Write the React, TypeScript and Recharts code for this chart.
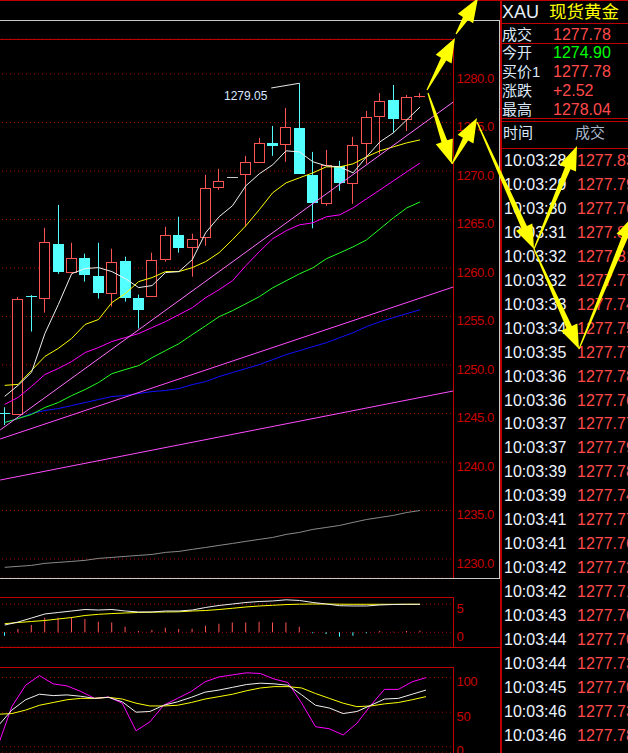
import React from "react";
import {
  ComposedChart,
  Bar,
  Line,
  XAxis,
  YAxis,
  CartesianGrid,
  Cell,
  ReferenceLine,
} from "recharts";

// candles, oldest first (price panel)
const candleOpen = [1245.05, 1244.92, 1257.08, 1256.95, 1262.5, 1259.63, 1261.07, 1259.22, 1257.47, 1260.76, 1256.95, 1257.16, 1260.97, 1263.43, 1262.2, 1263.23, 1268.37, 1269.35, 1269.71, 1270.95, 1272.9, 1272.79, 1274.44, 1269.61, 1266.73, 1270.53, 1268.79, 1272.9, 1275.68, 1277.32, 1275.37, 1277.7];
const candleHigh = [1245.64, 1257.0, 1257.2, 1264.15, 1266.5, 1262.6, 1261.48, 1262.6, 1261.99, 1261.17, 1257.26, 1261.58, 1264.25, 1265.29, 1263.54, 1269.61, 1270.23, 1269.37, 1271.56, 1273.41, 1274.65, 1276.5, 1279.05, 1271.97, 1272.18, 1271.05, 1273.52, 1276.19, 1278.04, 1278.87, 1277.84, 1278.04];
const candleLow = [1243.81, 1244.92, 1253.45, 1255.4, 1259.4, 1259.6, 1258.6, 1256.85, 1256.03, 1256.54, 1253.76, 1257.16, 1260.66, 1261.58, 1259.11, 1262.3, 1268.06, 1269.33, 1264.26, 1270.95, 1271.56, 1270.95, 1269.71, 1264.09, 1266.42, 1267.96, 1266.62, 1270.74, 1271.77, 1273.95, 1274.13, 1277.55];
const candleClose = [1245.0, 1256.77, 1257.04, 1262.7, 1259.55, 1261.07, 1259.33, 1257.47, 1260.66, 1256.95, 1255.62, 1260.86, 1263.43, 1262.1, 1263.02, 1268.27, 1268.99, 1269.35, 1270.95, 1272.9, 1272.59, 1274.55, 1269.71, 1266.73, 1270.64, 1268.79, 1272.69, 1275.57, 1277.22, 1275.37, 1277.63, 1277.78];

// moving averages
const ma5 = [1246.77, 1247.9, 1249.24, 1253.25, 1256.23, 1259.42, 1259.94, 1260.04, 1259.63, 1258.91, 1257.98, 1258.19, 1259.53, 1259.63, 1260.86, 1263.64, 1265.29, 1266.42, 1268.48, 1269.71, 1270.64, 1272.08, 1271.97, 1270.95, 1270.53, 1270.43, 1269.81, 1271.46, 1273.0, 1273.93, 1275.27, 1276.6];
const ma10 = [1247.9, 1248.0, 1249.44, 1250.88, 1251.71, 1252.74, 1254.18, 1254.69, 1256.44, 1257.36, 1258.6, 1259.01, 1259.63, 1259.63, 1260.04, 1260.66, 1261.58, 1262.92, 1264.36, 1266.01, 1267.76, 1268.78, 1269.3, 1269.81, 1270.43, 1270.43, 1270.74, 1271.46, 1272.08, 1272.49, 1272.9, 1273.21];
const ma20 = [1245.94, 1246.66, 1247.79, 1249.02, 1249.64, 1250.36, 1251.28, 1251.8, 1252.42, 1252.83, 1253.24, 1253.86, 1254.47, 1255.19, 1255.91, 1256.94, 1257.77, 1258.69, 1260.24, 1261.68, 1263.01, 1263.84, 1264.45, 1264.66, 1265.28, 1265.48, 1266.2, 1267.13, 1268.05, 1268.98, 1269.91, 1270.83];
const ma30 = [1244.07, 1244.48, 1244.9, 1245.62, 1246.13, 1246.85, 1247.47, 1248.19, 1249.11, 1249.53, 1249.94, 1250.76, 1251.48, 1252.2, 1253.13, 1254.05, 1254.98, 1255.6, 1256.32, 1257.04, 1257.96, 1258.68, 1259.4, 1260.02, 1260.95, 1261.56, 1262.18, 1262.9, 1264.03, 1265.16, 1266.19, 1266.81];
const ma60 = [1244.07, 1244.48, 1245.0, 1245.31, 1245.51, 1245.82, 1246.13, 1246.44, 1246.75, 1246.85, 1247.06, 1247.26, 1247.37, 1247.57, 1247.98, 1248.29, 1248.81, 1249.22, 1249.63, 1250.04, 1250.55, 1251.07, 1251.48, 1251.89, 1252.3, 1252.82, 1253.33, 1253.95, 1254.46, 1254.88, 1255.29, 1255.7];
const ma250 = [1229.14, 1229.24, 1229.34, 1229.55, 1229.65, 1229.75, 1229.86, 1230.06, 1230.16, 1230.27, 1230.37, 1230.47, 1230.68, 1230.78, 1230.99, 1231.19, 1231.4, 1231.6, 1231.82, 1232.02, 1232.22, 1232.53, 1232.74, 1233.05, 1233.25, 1233.46, 1233.77, 1234.07, 1234.28, 1234.49, 1234.79, 1235.0];

// hand drawn trend lines: x in candle index units, ends at the chart edges
const trendX = [-0.336, 33.47];
const trendA = [1243.3, 1277.11];
const trendB = [1242.37, 1258.04];
const trendC = [1238.14, 1247.32];
const highMarkLabel = "1279.05";
const highLeaderX = [19.89, 22];
const highLeaderY = [1278.56, 1279.05];

const priceTicks = [1230, 1235, 1240, 1245, 1250, 1255, 1260, 1265, 1270, 1275, 1280];

// MACD
const macdDif = [1.3, 1.84, 2.55, 3.27, 3.54, 3.8, 4.07, 3.98, 4.07, 3.8, 3.63, 3.63, 3.8, 3.8, 3.98, 4.43, 4.79, 5.05, 5.32, 5.5, 5.59, 5.8, 5.68, 5.32, 5.05, 4.75, 4.7, 4.7, 4.88, 4.96, 5.0, 5.0];
const macdDea = [1.54, 1.75, 1.93, 2.11, 2.38, 2.64, 3.0, 3.21, 3.34, 3.45, 3.54, 3.59, 3.63, 3.66, 3.8, 3.89, 4.07, 4.29, 4.52, 4.7, 4.82, 4.95, 5.02, 5.05, 5.05, 5.02, 5.0, 5.0, 5.0, 5.0, 5.0, 5.0];
const macdHist = [-0.6, 0.6, 1.31, 2.62, 2.62, 2.68, 2.38, 1.9, 1.73, 1.0, 0.24, 0.42, 0.83, 0.6, 0.65, 1.19, 1.55, 1.73, 1.73, 1.9, 1.73, 1.73, 1.0, -0.18, -0.3, -0.77, -0.6, -0.18, 0.24, 0.1, 0.24, 0.3];
const macdTicks = [0, 5];

// KDJ
const kdjK = [30, 53, 68, 76, 74, 75, 73, 70, 71.5, 65, 50, 51, 60, 65, 71.5, 79, 82, 86, 90, 92, 91, 89, 75, 60, 56, 48, 51, 60, 69, 70, 76, 82];
const kdjD = [47, 48, 53, 60, 64, 68, 70, 70, 71.5, 69, 63, 59, 59, 60, 64, 69, 72.5, 76, 81, 85, 87, 87, 85, 77, 70, 63, 58, 59, 62, 64, 68, 72.5];
const kdjJ = [1.5, 58, 89, 103, 91, 88, 80, 70, 72, 63, 23, 36, 60, 70, 80, 94, 101, 104, 107, 106, 98, 93, 63, 29, 26, 17, 34, 60, 83, 83, 94, 100];
const kdjTicks = [0, 50, 100];

// quote box
const symbolCode = "XAU";
const symbolName = "现货黄金";
const quoteLabels = ["成交", "今开", "买价1", "涨跌", "最高"];
const quoteValues = ["1277.78", "1274.90", "1277.78", "+2.52", "1278.04"];

// tick-by-tick trades
const tradeTimes = ["10:03:28", "10:03:29", "10:03:30", "10:03:31", "10:03:32", "10:03:32", "10:03:33", "10:03:34", "10:03:35", "10:03:36", "10:03:36", "10:03:37", "10:03:37", "10:03:39", "10:03:39", "10:03:41", "10:03:41", "10:03:42", "10:03:42", "10:03:43", "10:03:44", "10:03:44", "10:03:45", "10:03:46", "10:03:46"];
const tradePrices = ["1277.83", "1277.79", "1277.76", "1277.80", "1277.81", "1277.77", "1277.74", "1277.75", "1277.77", "1277.78", "1277.76", "1277.77", "1277.79", "1277.78", "1277.74", "1277.77", "1277.76", "1277.72", "1277.71", "1277.76", "1277.70", "1277.73", "1277.70", "1277.73", "1277.78"];

// yellow annotation arrows drawn on the screenshot [tailX, tailY, headX, headY]
const arrows = [
  [427, 90, 455, 38],
  [456, 34, 478, -2],
  [428, 93, 452, 164],
  [452, 164, 477, 118],
  [477, 122, 534, 249],
  [534, 249, 577, 146],
  [534, 249, 579, 349],
  [579, 349, 634, 215],
];

const UP = "#ff5454";
const DOWN = "#54ffff";
const FLAT = "#c8c8c8";
const BORDER = "#c00000";
const GRID = "#a80000";
const AXIS_TEXT = "#c80000";
const FONT = '"Liberation Sans", Arial, "Noto Sans CJK SC", sans-serif';

const SLOTS = 34; // 32 candles + 2 empty slots before the scale

const priceRows = Array.from({ length: SLOTS }, (_, i) => ({
  slot: i,
  open: candleOpen[i],
  high: candleHigh[i],
  low: candleLow[i],
  close: candleClose[i],
  ma5: ma5[i],
  ma10: ma10[i],
  ma20: ma20[i],
  ma30: ma30[i],
  ma60: ma60[i],
  ma250: ma250[i],
}));

const trendRows = trendX.map((x, k) => ({ x, a: trendA[k], b: trendB[k], c: trendC[k] }));

const macdRows = Array.from({ length: SLOTS }, (_, i) => ({
  slot: i,
  dif: macdDif[i],
  dea: macdDea[i],
  hist: macdHist[i],
}));

const kdjRows = Array.from({ length: SLOTS }, (_, i) => ({
  slot: i,
  k: kdjK[i],
  d: kdjD[i],
  j: kdjJ[i],
}));

const PRICE_DOMAIN: [number, number] = [1228.04, 1283.61];

function Candle(props: any) {
  const { x, y, width, height, payload } = props;
  if (!payload || payload.high == null) return null;
  const { open, close, high, low } = payload;
  const top = Math.min(y, y + height);
  const h = Math.abs(height);
  const span = high - low;
  const toY = (v: number) => (span > 0 ? top + ((high - v) / span) * h : top);
  const cx = Math.floor(x + width / 2) + 0.5;
  const yo = toY(open);
  const yc = toY(close);
  const bTop = Math.min(yo, yc);
  const bBot = Math.max(yo, yc);
  const color = close > open ? UP : close < open ? DOWN : FLAT;

  if (bBot - bTop < 1.5) {
    const yy = Math.round(bTop) + 0.5;
    return (
      <g>
        {span > 0.1 && <line x1={cx} x2={cx} y1={top} y2={top + h} stroke={color} />}
        <line x1={cx - 5.5} x2={cx + 5.5} y1={yy} y2={yy} stroke={color} />
      </g>
    );
  }
  if (close > open) {
    const t = Math.round(bTop) + 0.5;
    const b = Math.round(bBot) + 0.5;
    return (
      <g>
        <line x1={cx} x2={cx} y1={top} y2={t} stroke={UP} />
        <line x1={cx} x2={cx} y1={b} y2={top + h} stroke={UP} />
        <rect x={cx - 5} y={t} width={10} height={b - t} fill="#000" stroke={UP} />
      </g>
    );
  }
  return (
    <g>
      <line x1={cx} x2={cx} y1={top} y2={top + h} stroke={DOWN} />
      <rect
        x={cx - 5.5}
        y={Math.round(bTop)}
        width={11}
        height={Math.max(1, Math.round(bBot) - Math.round(bTop))}
        fill={DOWN}
      />
    </g>
  );
}

function makeTick(fmt: (v: number) => string) {
  return (p: any) => (
    <text
      x={p.x}
      y={p.y + 8.7}
      fill={AXIS_TEXT}
      fontSize={13}
      letterSpacing={-0.4}
      fontFamily={FONT}
      textAnchor="start"
    >
      {fmt(p.payload.value)}
    </text>
  );
}

function hline(left: number, top: number, width: number, color: string, key?: string) {
  return <div key={key} style={{ position: "absolute", left, top, width, height: 1, background: color }} />;
}
function vline(left: number, top: number, height: number, color: string, w = 1) {
  return <div style={{ position: "absolute", left, top, width: w, height, background: color }} />;
}

function arrowPoints(a: number[]) {
  const [tx, ty, hx, hy] = a;
  const len = Math.hypot(hx - tx, hy - ty);
  const dx = (hx - tx) / len;
  const dy = (hy - ty) / len;
  const nx = -dy;
  const ny = dx;
  const L = 24;
  const bx = hx - dx * L;
  const by = hy - dy * L;
  const pts = [
    [tx + nx * 0.6, ty + ny * 0.6],
    [bx + nx * 3, by + ny * 3],
    [bx + nx * 9, by + ny * 9],
    [hx, hy],
    [bx - nx * 9, by - ny * 9],
    [bx - nx * 3, by - ny * 3],
    [tx - nx * 0.6, ty - ny * 0.6],
  ];
  return pts.map((p) => p.join(",")).join(" ");
}

const CHART_LEFT = -2.2;
const CHART_W = 502.2;

export default function App() {
  return (
    <div
      style={{
        position: "relative",
        width: 628,
        height: 753,
        background: "#000",
        overflow: "hidden",
        fontFamily: FONT,
      }}
    >
      <style>{"body{margin:0;background:#000}"}</style>

      {/* frames */}
      {hline(0, 0, 628, BORDER)}
      {hline(0, 20, 500, "#c8c8c8")}
      {vline(499, 20, 558, "#c8c8c8")}
      {hline(0, 578, 500, "#c8c8c8")}
      {hline(0, 39, 454, BORDER)}
      {vline(453, 39, 539, BORDER)}
      {hline(0, 597, 454, BORDER)}
      {vline(453, 597, 50, BORDER)}
      {hline(0, 647, 500, BORDER)}
      {hline(0, 667, 454, BORDER)}
      {vline(453, 667, 86, BORDER)}

      {/* price panel */}
      <div style={{ position: "absolute", left: CHART_LEFT, top: 0 }}>
        <ComposedChart
          width={CHART_W}
          height={578}
          data={priceRows}
          margin={{ top: 39, right: 0.6, bottom: 0, left: 0 }}
        >
          <CartesianGrid vertical={false} stroke={GRID} strokeDasharray="1 3" />
          <XAxis dataKey="slot" hide />
          <YAxis
            orientation="right"
            width={46}
            domain={PRICE_DOMAIN}
            allowDataOverflow
            ticks={priceTicks}
            interval={0}
            tickSize={0}
            tickMargin={3}
            axisLine={false}
            tickLine={false}
            tick={makeTick((v) => v.toFixed(1))}
          />
          <Bar
            dataKey={(d: any) => (d.high == null ? null : [d.low, d.high])}
            barSize={11}
            shape={Candle}
            isAnimationActive={false}
          />
          <Line dataKey="ma250" stroke="#8a8a8a" dot={false} isAnimationActive={false} />
          <Line dataKey="ma60" stroke="#1010ff" dot={false} isAnimationActive={false} />
          <Line dataKey="ma30" stroke="#22ff22" dot={false} isAnimationActive={false} />
          <Line dataKey="ma20" stroke="#ff00ff" dot={false} isAnimationActive={false} />
          <Line dataKey="ma10" stroke="#ffff00" dot={false} isAnimationActive={false} />
          <Line dataKey="ma5" stroke="#f0f0f0" dot={false} isAnimationActive={false} />
        </ComposedChart>
      </div>

      {/* trend lines and high marker */}
      <div style={{ position: "absolute", left: CHART_LEFT, top: 0 }}>
        <ComposedChart
          width={CHART_W}
          height={578}
          data={trendRows}
          margin={{ top: 39, right: 46.6, bottom: 0, left: 0 }}
        >
          <XAxis type="number" dataKey="x" domain={[-0.5, 33.5]} allowDataOverflow hide />
          <YAxis domain={PRICE_DOMAIN} allowDataOverflow hide />
          <Line dataKey="a" stroke="#ff70ff" dot={false} isAnimationActive={false} />
          <Line dataKey="b" stroke="#ff4cff" dot={false} isAnimationActive={false} />
          <Line dataKey="c" stroke="#ff4cff" dot={false} isAnimationActive={false} />
          <ReferenceLine
            segment={[
              { x: highLeaderX[0], y: highLeaderY[0] },
              { x: highLeaderX[1], y: highLeaderY[1] },
            ]}
            stroke="#e8e8e8"
            ifOverflow="visible"
          />
        </ComposedChart>
      </div>
      <div
        style={{
          position: "absolute",
          left: 224,
          top: 88,
          height: 16,
          lineHeight: "16px",
          fontSize: 12,
          color: "#d8e8ff",
        }}
      >
        {highMarkLabel}
      </div>

      {/* MACD */}
      <div style={{ position: "absolute", left: CHART_LEFT, top: 597 }}>
        <ComposedChart
          width={CHART_W}
          height={50}
          data={macdRows}
          margin={{ top: 0, right: 0.6, bottom: 0, left: 0 }}
        >
          <CartesianGrid vertical={false} stroke={GRID} strokeDasharray="1 3" />
          <XAxis dataKey="slot" hide />
          <YAxis
            orientation="right"
            width={46}
            domain={[-2.62, 6.3]}
            allowDataOverflow
            ticks={macdTicks}
            interval={0}
            tickSize={0}
            tickMargin={3}
            axisLine={false}
            tickLine={false}
            tick={makeTick((v) => String(v))}
          />
          <Bar dataKey="hist" barSize={1} isAnimationActive={false}>
            {macdRows.map((r, i) => (
              <Cell key={i} fill={(r.hist ?? 0) >= 0 ? UP : DOWN} />
            ))}
          </Bar>
          <Line dataKey="dea" stroke="#ffff00" dot={false} isAnimationActive={false} />
          <Line dataKey="dif" stroke="#f0f0f0" dot={false} isAnimationActive={false} />
        </ComposedChart>
      </div>

      {/* KDJ */}
      <div style={{ position: "absolute", left: CHART_LEFT, top: 667 }}>
        <ComposedChart
          width={CHART_W}
          height={86}
          data={kdjRows}
          margin={{ top: 0, right: 0.6, bottom: 0, left: 0 }}
        >
          <CartesianGrid vertical={false} stroke={GRID} strokeDasharray="1 3" />
          <XAxis dataKey="slot" hide />
          <YAxis
            orientation="right"
            width={46}
            domain={[-9.1, 115.4]}
            allowDataOverflow
            ticks={kdjTicks}
            interval={0}
            tickSize={0}
            tickMargin={3}
            axisLine={false}
            tickLine={false}
            tick={makeTick((v) => String(v))}
          />
          <Line dataKey="j" stroke="#ff00ff" dot={false} isAnimationActive={false} />
          <Line dataKey="d" stroke="#ffff00" dot={false} isAnimationActive={false} />
          <Line dataKey="k" stroke="#f0f0f0" dot={false} isAnimationActive={false} />
        </ComposedChart>
      </div>

      {/* right side quote panel */}
      {vline(500, 0, 753, BORDER, 2)}
      {hline(500, 23, 128, BORDER)}
      {hline(500, 43, 128, BORDER)}
      {hline(500, 118, 128, BORDER)}
      {hline(502, 121, 126, BORDER)}
      {hline(502, 148, 126, BORDER)}
      <div style={{ position: "absolute", left: 502, top: 1, fontSize: 18, lineHeight: "22px", color: "#e8f0ff" }}>
        {symbolCode}
      </div>
      <div style={{ position: "absolute", left: 549, top: 1, fontSize: 17.5, lineHeight: "22px", color: "#ffff00" }}>
        {symbolName}
      </div>
      {quoteLabels.map((lab, k) => {
        const cy = k === 0 ? 34.5 : 53 + 19 * (k - 1);
        return (
          <React.Fragment key={lab}>
            <div
              style={{
                position: "absolute",
                left: 502,
                top: cy - 10,
                height: 20,
                lineHeight: "20px",
                fontSize: 15,
                color: "#dce8f8",
                whiteSpace: "nowrap",
              }}
            >
              {lab}
            </div>
            <div
              style={{
                position: "absolute",
                left: 553,
                top: cy - 10,
                height: 20,
                lineHeight: "20px",
                fontSize: 16,
                color: lab === "今开" ? "#00ff00" : "#ff4a4a",
              }}
            >
              {quoteValues[k]}
            </div>
          </React.Fragment>
        );
      })}
      <div style={{ position: "absolute", left: 503, top: 123, lineHeight: "20px", fontSize: 15, color: "#dce8f8" }}>
        时间
      </div>
      <div style={{ position: "absolute", left: 575, top: 123, lineHeight: "20px", fontSize: 15, color: "#a8b8cc" }}>
        成交
      </div>
      {tradeTimes.map((t, k) => {
        const cy = 161 + 23.95 * k;
        return (
          <React.Fragment key={k}>
            <div
              style={{
                position: "absolute",
                left: 504,
                top: cy - 10,
                height: 20,
                lineHeight: "20px",
                fontSize: 16,
                color: "#eef4ff",
              }}
            >
              {t}
            </div>
            <div
              style={{
                position: "absolute",
                left: 577,
                top: cy - 10,
                height: 20,
                lineHeight: "20px",
                fontSize: 16,
                color: "#ff4a4a",
                whiteSpace: "nowrap",
              }}
            >
              {tradePrices[k]}
            </div>
          </React.Fragment>
        );
      })}

      {/* yellow annotation arrows */}
      <svg
        width={628}
        height={753}
        style={{ position: "absolute", left: 0, top: 0, pointerEvents: "none" }}
      >
        {arrows.map((a, k) => (
          <polygon key={k} points={arrowPoints(a)} fill="#ffff00" />
        ))}
      </svg>
    </div>
  );
}
